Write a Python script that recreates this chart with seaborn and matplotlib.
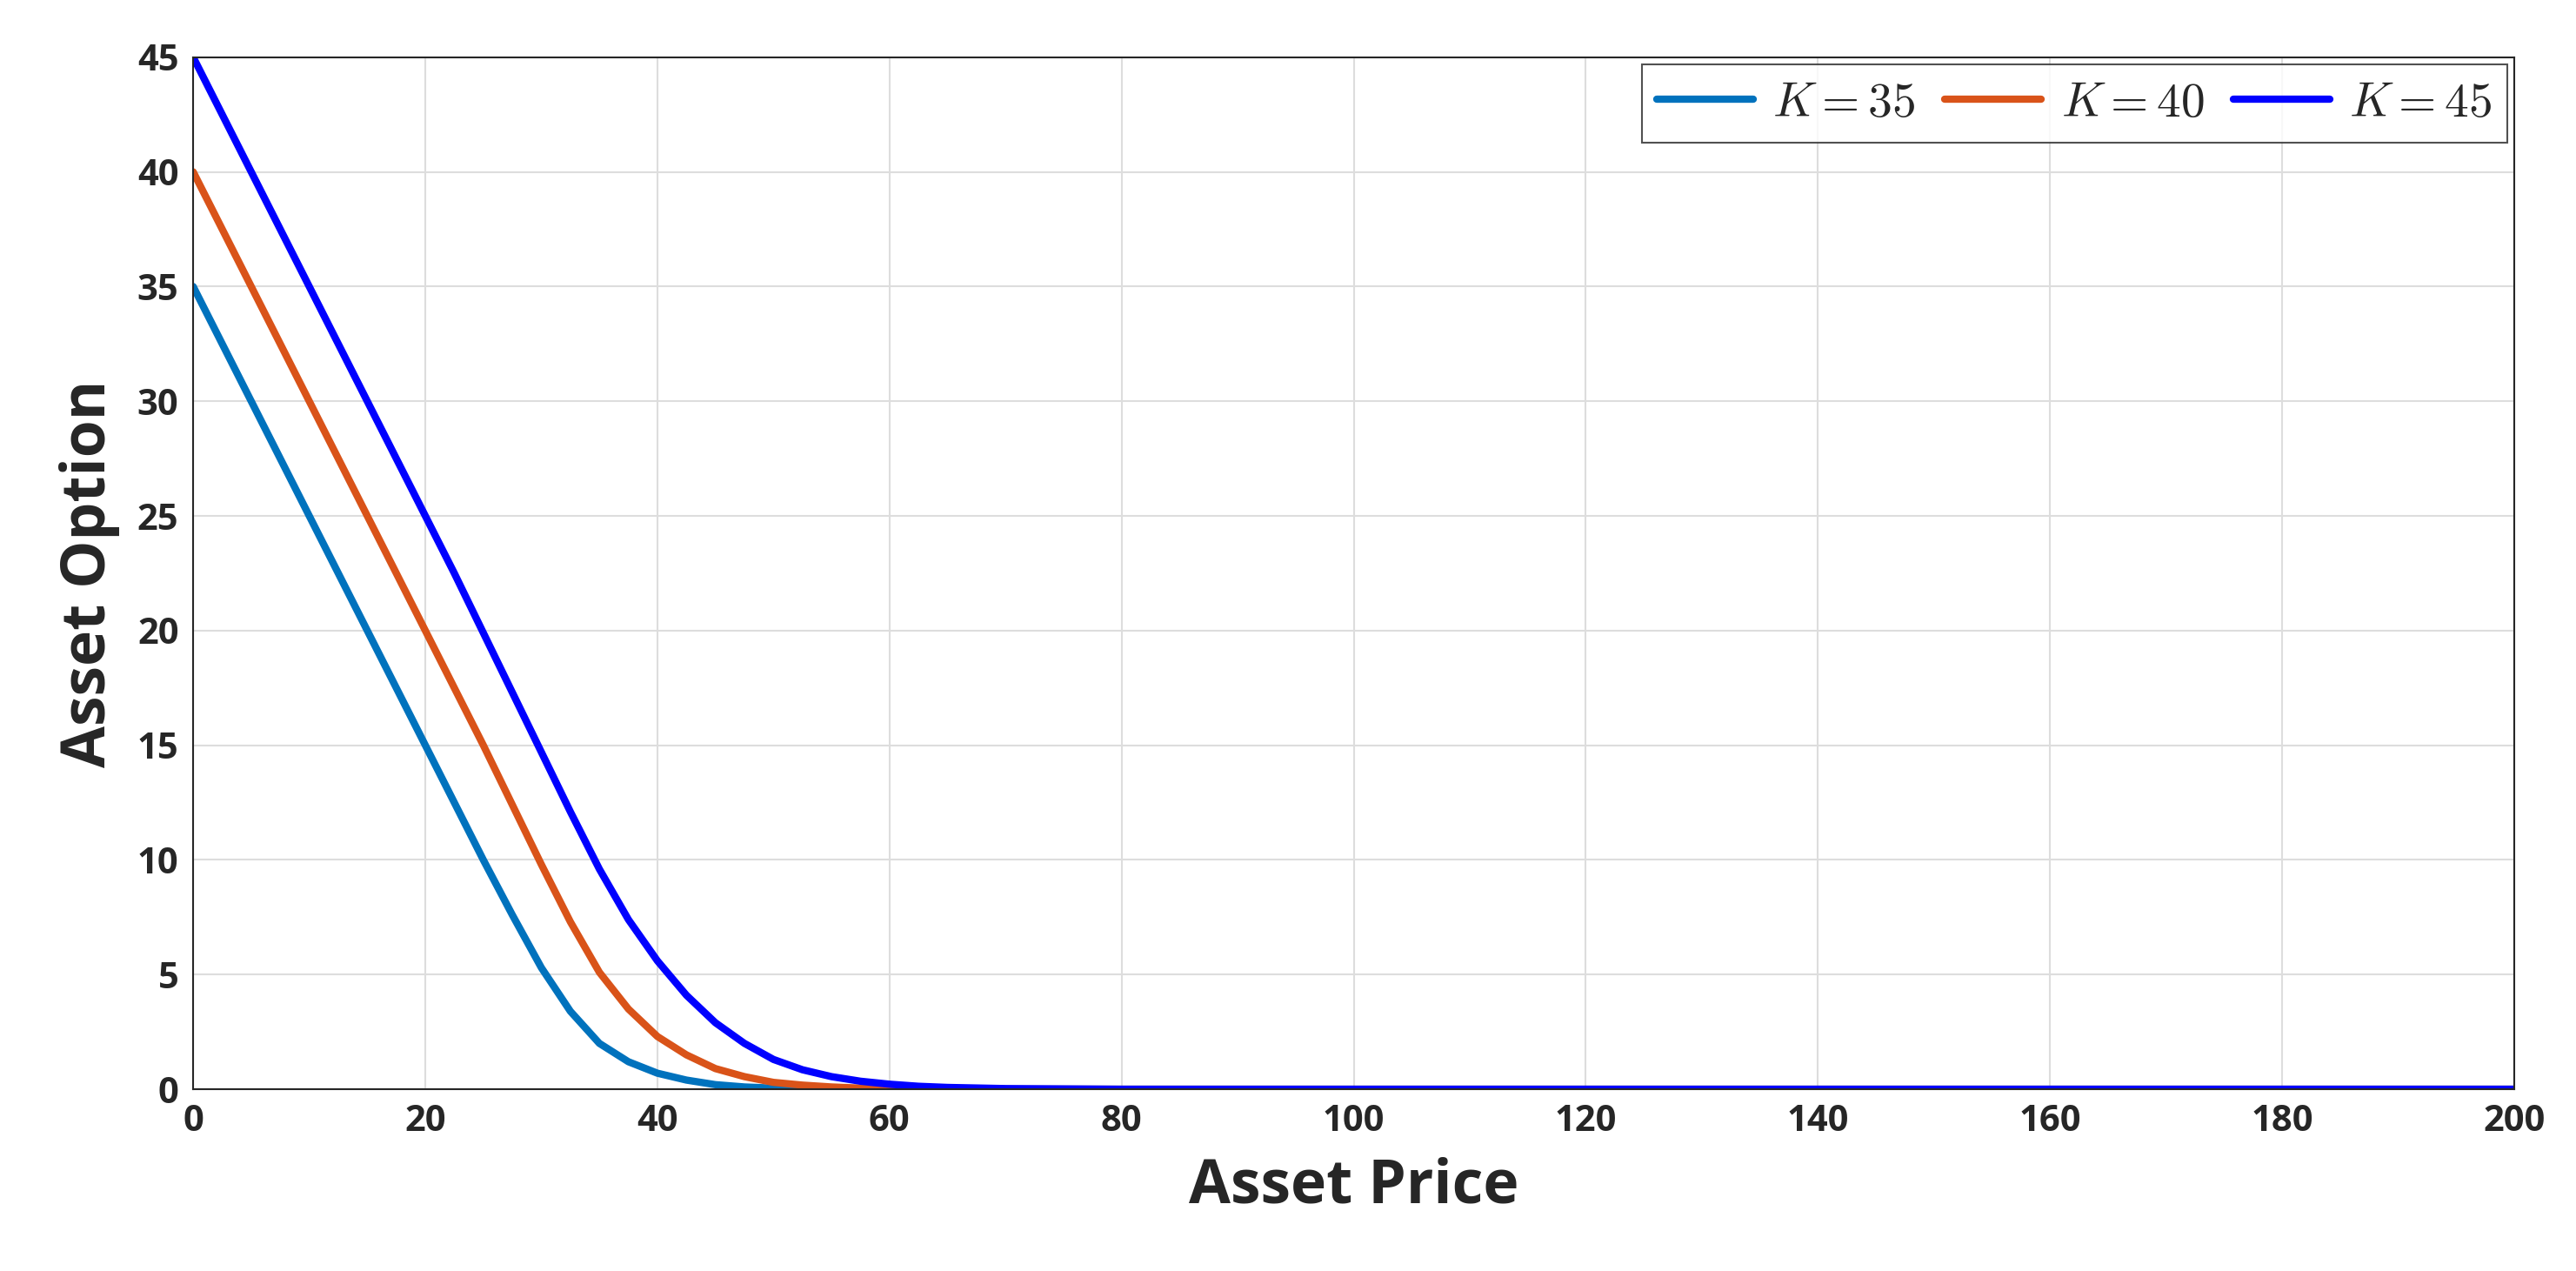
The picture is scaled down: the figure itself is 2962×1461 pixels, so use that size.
import numpy as np
import pandas as pd
import matplotlib
matplotlib.use("Agg")
import matplotlib.pyplot as plt
import seaborn as sns

asset_price = [0, 5, 10, 15, 20, 22.5, 25, 27.5, 30, 32.5, 35, 37.5, 40, 42.5, 45, 47.5,
               50, 52.5, 55, 57.5, 60, 62.5, 65, 70, 80, 100, 150, 200]
k35 = [35, 30, 25, 20, 15, 12.5, 10, 7.6, 5.3, 3.4, 2.0, 1.2, 0.7, 0.4, 0.2, 0.1,
       0.05, 0.02, 0.01, 0, 0, 0, 0, 0, 0, 0, 0, 0]
k40 = [40, 35, 30, 25, 20, 17.5, 15, 12.4, 9.8, 7.3, 5.1, 3.5, 2.3, 1.5, 0.9, 0.55,
       0.3, 0.18, 0.1, 0.05, 0.02, 0.01, 0, 0, 0, 0, 0, 0]
k45 = [45, 40, 35, 30, 25, 22.5, 19.9, 17.3, 14.7, 12.1, 9.6, 7.4, 5.6, 4.1, 2.9, 2.0,
       1.3, 0.85, 0.55, 0.35, 0.22, 0.13, 0.08, 0.03, 0, 0, 0, 0]

labels = [r'$K = 35$', r'$K = 40$', r'$K = 45$']
colors = ['#0072BD', '#D95319', '#0000FF']

df = pd.DataFrame({'price': asset_price * 3,
                   'value': k35 + k40 + k45,
                   'K': sum([[l] * len(asset_price) for l in labels], [])})

sns.set_style("whitegrid")
plt.rcParams['font.family'] = ['Open Sans', 'DejaVu Sans']
plt.rcParams['mathtext.fontset'] = 'cm'

fig = plt.figure(figsize=(29.62, 14.61), dpi=100)
ax = fig.add_axes([0.075, 0.143, 0.901, 0.812])
sns.lineplot(data=df, x='price', y='value', hue='K', palette=colors, linewidth=6, ax=ax)

ax.set_xlim(0, 200)
ax.set_ylim(0, 45)
ax.set_xticks(np.arange(0, 201, 20))
ax.set_yticks(np.arange(0, 46, 5))
ax.tick_params(labelsize=30, direction='in', length=8, color='#262626', pad=12)
for t in ax.get_xticklabels() + ax.get_yticklabels():
    t.set_fontweight('bold')
    t.set_color('#262626')
ax.set_xlabel('Asset Price', fontsize=50, fontweight='bold', color='#262626', labelpad=14)
ax.set_ylabel('Asset Option', fontsize=50, fontweight='bold', color='#262626', labelpad=14)
ax.grid(True, color='#dddddd', linewidth=1.5)
for s in ax.spines.values():
    s.set_visible(True)
    s.set_color('#262626')
    s.set_linewidth(1.5)

leg = ax.legend(loc='upper right', ncol=3, fontsize=40, frameon=True, fancybox=False,
                borderaxespad=0.15, handlelength=2.0, columnspacing=0.6, handletextpad=0.4,
                borderpad=0.3)
leg.get_frame().set_edgecolor('#262626')
leg.get_frame().set_linewidth(1.5)
for line in leg.get_lines():
    line.set_linewidth(6)

fig.savefig('out.png', dpi=100)
